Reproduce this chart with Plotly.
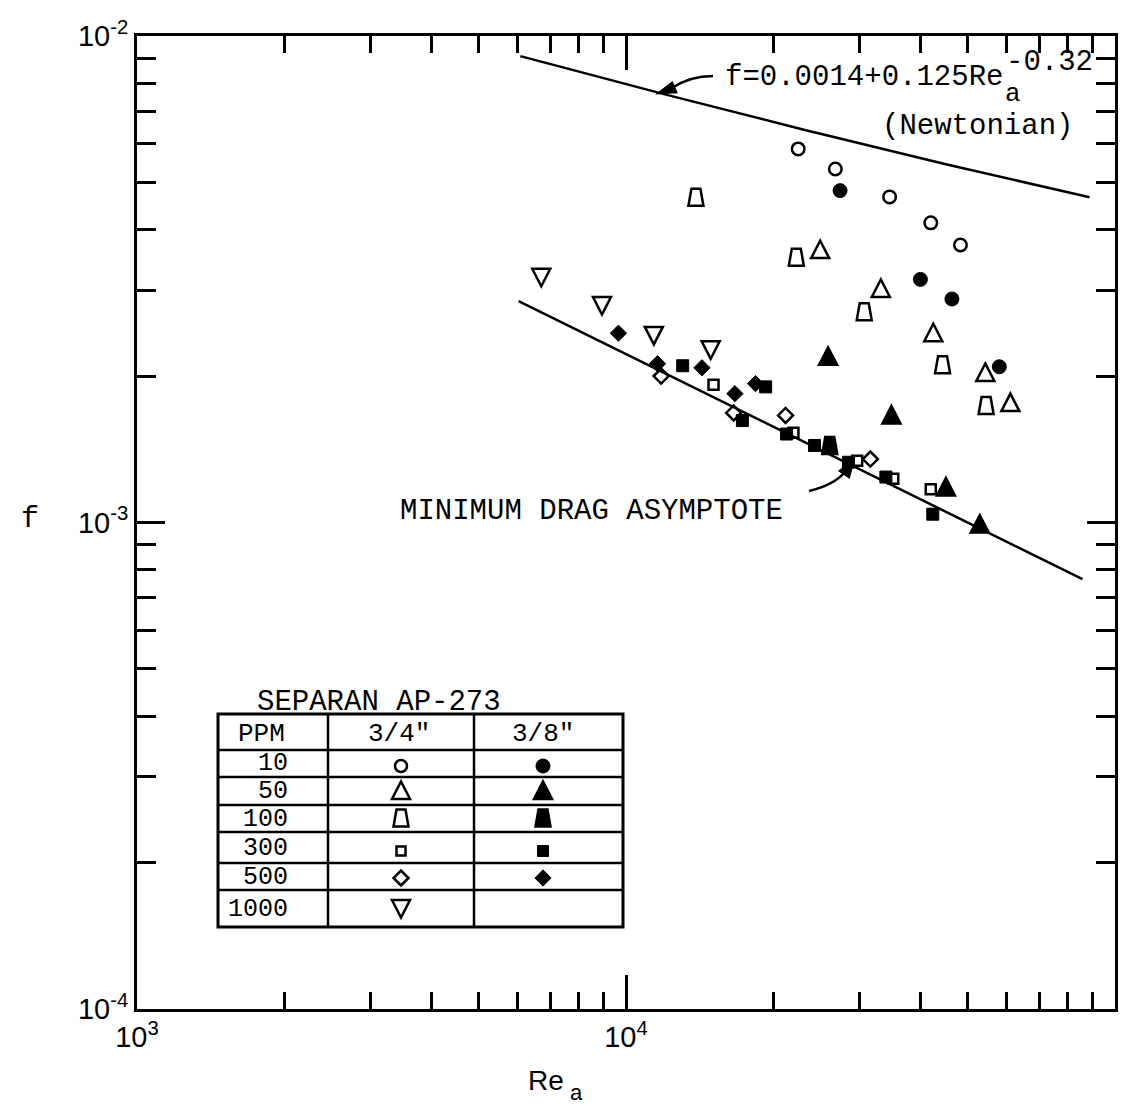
import numpy as np
import plotly.graph_objects as go

# ---- friction factor data, Separan AP-273 solutions ----
# (Re_a, f) for each concentration; "34" = 3/4" pipe, "38" = 3/8" pipe
re_10_34 = [22500, 26800, 34600, 42000, 48300]
f_10_34 = [0.00586, 0.00533, 0.00467, 0.00413, 0.00372]
re_10_38 = [27400, 40000, 46400, 58000]
f_10_38 = [0.00481, 0.00316, 0.00288, 0.00209]

re_50_34 = [24950, 33200, 42500, 54300, 61100]
f_50_34 = [0.00363, 0.00302, 0.00245, 0.00203, 0.00176]
re_50_38 = [25900, 34900, 45100, 52900]
f_50_38 = [0.00219, 0.00166, 0.00118, 0.00099]

re_100_34 = [13900, 22300, 30700, 44400, 54500]
f_100_34 = [0.00466, 0.00351, 0.00271, 0.00211, 0.00174]
re_100_38 = [26100]
f_100_38 = [0.00144]

re_300_34 = [15100, 22000, 29700, 35200, 42000]
f_300_34 = [0.00192, 0.00153, 0.00134, 0.00123, 0.00117]
re_300_38 = [13060, 17300, 19300, 21300, 24300, 28500, 34000, 42400]
f_300_38 = [0.00210, 0.00162, 0.00190, 0.00152, 0.00144, 0.00133, 0.00124, 0.00104]

re_500_34 = [11800, 16600, 21200, 31600]
f_500_34 = [0.00200, 0.00168, 0.00166, 0.00135]
re_500_38 = [9650, 11600, 14300, 16700, 18400]
f_500_38 = [0.00245, 0.00212, 0.00208, 0.00184, 0.00193]

re_1000_34 = [6710, 8930, 11400, 14900]
f_1000_34 = [0.00320, 0.00280, 0.00243, 0.00227]

# Newtonian correlation f = 0.0014 + 0.125 Re^-0.32 over the drawn range
newt_re_range = [6080, 88700]
# Minimum drag asymptote end points
re_mda = [6030, 85800]
f_mda = [0.00285, 0.000765]

# Legend table rows
ppm_labels = ["10", "50", "100", "300", "500", "1000"]

x_major = [1e3, 1e4, 1e5]
x_major_text = ["10<sup>3</sup>", "10<sup>4</sup>", "10<sup>5</sup>"]
y_major = [1e-4, 1e-3, 1e-2]
y_major_text = ["10<sup>-4</sup>", "10<sup>-3</sup>", "10<sup>-2</sup>"]
x_minor = [m * 10 ** e for e in (3, 4) for m in range(2, 10)]
y_minor = [m * 10 ** e for e in (-4, -3) for m in range(2, 10)]

# ---- figure geometry (pixels) ----
W, H = 1131, 1106
L, R, T, B = 137, 1115, 36, 1009


def px(x):
    return (x - L) / (R - L)


def py(y):
    return (B - y) / (B - T)


MONO = "Liberation Mono"
INK = "black"
LW = 2.5

TRI_UP = "M -9 -8 L 9 -8 L 0 9.5 Z"
TRI_DOWN = "M -9 8 L 9 8 L 0 -9.5 Z"
TRAP = "M -7.5 -8.5 L 7.5 -8.5 L 4.5 8.5 L -4.5 8.5 Z"

fig = go.Figure()

# correlation lines
newt_re = np.geomspace(newt_re_range[0], newt_re_range[1], 60)
newt_f = 0.0014 + 0.125 * newt_re ** -0.32
fig.add_trace(go.Scatter(x=newt_re, y=newt_f, mode="lines",
                         line=dict(color=INK, width=2.5), hoverinfo="skip"))
fig.add_trace(go.Scatter(x=re_mda, y=f_mda, mode="lines",
                         line=dict(color=INK, width=2.5), hoverinfo="skip"))


def add_points(xs, ys, symbol, size, lw=LW):
    fig.add_trace(go.Scatter(
        x=xs, y=ys, mode="markers",
        marker=dict(symbol=symbol, size=size, color=INK, opacity=1,
                    line=dict(color=INK, width=lw))))


add_points(re_10_34, f_10_34, "circle-open", 12.5)
add_points(re_10_38, f_10_38, "circle", 14, 1)
add_points(re_300_34, f_300_34, "square-open", 10)
add_points(re_300_38, f_300_38, "square", 12, 1)
add_points(re_500_34, f_500_34, "diamond-open", 11.5)
add_points(re_500_38, f_500_38, "diamond", 12.5, 1)

shapes = []


def glyph(xref, yref, x, y, path, filled):
    shapes.append(dict(
        type="path", xref=xref, yref=yref,
        xsizemode="pixel", ysizemode="pixel", xanchor=x, yanchor=y,
        path=path, line=dict(color=INK, width=LW),
        fillcolor=INK if filled else "rgba(0,0,0,0)", layer="above"))


# triangles and truncated triangles drawn as pixel-sized glyphs at data positions
for xs, ys, path, filled in [
    (re_50_34, f_50_34, TRI_UP, False),
    (re_50_38, f_50_38, TRI_UP, True),
    (re_100_34, f_100_34, TRAP, False),
    (re_100_38, f_100_38, TRAP, True),
    (re_1000_34, f_1000_34, TRI_DOWN, False),
]:
    for xv, yv in zip(xs, ys):
        glyph("x", "y", xv, yv, path, filled)

# ---- legend table ----
tx0, tx1 = 218, 623
col_a, col_b = 328, 474
row_lines = [750, 777, 805, 832, 863, 890]
ty0, ty1 = 714, 927

shapes.append(dict(type="rect", xref="paper", yref="paper",
                   x0=px(tx0), x1=px(tx1), y0=py(ty1), y1=py(ty0),
                   line=dict(color=INK, width=3), layer="above"))
for cx in (col_a, col_b):
    shapes.append(dict(type="line", xref="paper", yref="paper",
                       x0=px(cx), x1=px(cx), y0=py(ty1), y1=py(ty0),
                       line=dict(color=INK, width=2.5), layer="above"))
for ry in row_lines:
    shapes.append(dict(type="line", xref="paper", yref="paper",
                       x0=px(tx0), x1=px(tx1), y0=py(ry), y1=py(ry),
                       line=dict(color=INK, width=2.5), layer="above"))

key_x_a, key_x_b = 401, 543
key_rows = [766, 791, 818, 851, 878, 908]

# open symbols, 3/4" column
fig.add_trace(go.Scatter(
    x=[px(key_x_a)] * 3, y=[py(key_rows[0]), py(key_rows[3]), py(key_rows[4])],
    xaxis="x2", yaxis="y2", mode="markers",
    marker=dict(symbol=["circle-open", "square-open", "diamond-open"],
                size=[12, 9, 11.5], color=INK, opacity=1,
                line=dict(color=INK, width=LW))))
# filled symbols, 3/8" column
fig.add_trace(go.Scatter(
    x=[px(key_x_b)] * 3, y=[py(key_rows[0]), py(key_rows[3]), py(key_rows[4])],
    xaxis="x2", yaxis="y2", mode="markers",
    marker=dict(symbol=["circle", "square", "diamond"],
                size=[14, 11, 12.5], color=INK, opacity=1,
                line=dict(color=INK, width=1))))
glyph("paper", "paper", px(key_x_a), py(key_rows[1]), TRI_UP, False)
glyph("paper", "paper", px(key_x_a), py(key_rows[2]), TRAP, False)
glyph("paper", "paper", px(key_x_a), py(key_rows[5]), TRI_DOWN, False)
glyph("paper", "paper", px(key_x_b), py(key_rows[1]), TRI_UP, True)
glyph("paper", "paper", px(key_x_b), py(key_rows[2]), TRAP, True)

# ---- curved pointer arrows ----
def curve(p0, c, p1):
    return (f"M {px(p0[0])} {py(p0[1])} Q {px(c[0])} {py(c[1])} "
            f"{px(p1[0])} {py(p1[1])}")


def head(tip, b1, b2):
    return (f"M {px(tip[0])} {py(tip[1])} L {px(b1[0])} {py(b1[1])} "
            f"L {px(b2[0])} {py(b2[1])} Z")


for path, filled in [
    (curve((713, 76), (690, 76), (672, 88)), False),
    (head((659, 93), (672, 83), (676, 92)), True),
    (curve((809, 491), (834, 485), (845, 472)), False),
    (head((853, 461), (840, 471), (849, 477)), True),
]:
    shapes.append(dict(type="path", xref="paper", yref="paper", path=path,
                       line=dict(color=INK, width=2.5),
                       fillcolor=INK if filled else "rgba(0,0,0,0)",
                       layer="above"))

# ---- text ----
annotations = []


def label(text, x, y, size=29, anchor="left", font=MONO):
    annotations.append(dict(
        text=text, x=px(x), y=py(y), xref="paper", yref="paper",
        xanchor=anchor, yanchor="middle", showarrow=False,
        font=dict(family=font, size=size, color=INK)))


label("f=0.0014+0.125Re", 723, 78)
label("a", 1003, 94, size=26)
label("-0.32", 1004, 62)
label("(Newtonian)", 880, 126)
label("MINIMUM DRAG ASYMPTOTE", 398, 512)
label("SEPARAN AP-273", 255, 702, size=29)
label("PPM", 236, 734, size=26)
label("3/4\"", 366, 734, size=26)
label("3/8\"", 510, 734, size=26)
for txt, yy in zip(ppm_labels, [763, 791, 819, 848, 877, 909]):
    label(txt, 290, yy, size=25, anchor="right")
label("f", 19, 519, size=30)
label("Re", 566, 1080, size=28, anchor="right", font="Liberation Sans")
label("a", 568, 1092, size=22, font="Liberation Sans")

axis_common = dict(
    showline=True, linewidth=3, linecolor=INK, mirror="ticks",
    ticks="inside", tickwidth=2.5, tickcolor=INK, showgrid=False,
    zeroline=False, tickfont=dict(family="Liberation Sans", size=29, color=INK),
)

fig.update_layout(
    width=W, height=H,
    margin=dict(l=L, r=W - R, t=T, b=H - B, pad=0),
    paper_bgcolor="white", plot_bgcolor="white",
    showlegend=False,
    xaxis=dict(type="log", range=[3, 5], tickvals=x_major, ticktext=x_major_text,
               ticklen=34,
               minor=dict(tickvals=x_minor, ticks="inside", ticklen=17,
                          tickwidth=2.5, tickcolor=INK, showgrid=False),
               **axis_common),
    yaxis=dict(type="log", range=[-4, -2], tickvals=y_major, ticktext=y_major_text,
               ticklen=28,
               minor=dict(tickvals=y_minor, ticks="inside", ticklen=19,
                          tickwidth=2.5, tickcolor=INK, showgrid=False),
               **axis_common),
    xaxis2=dict(overlaying="x", range=[0, 1], visible=False),
    yaxis2=dict(overlaying="y", range=[0, 1], visible=False),
    shapes=shapes,
    annotations=annotations,
)

fig.write_html("out.html")
